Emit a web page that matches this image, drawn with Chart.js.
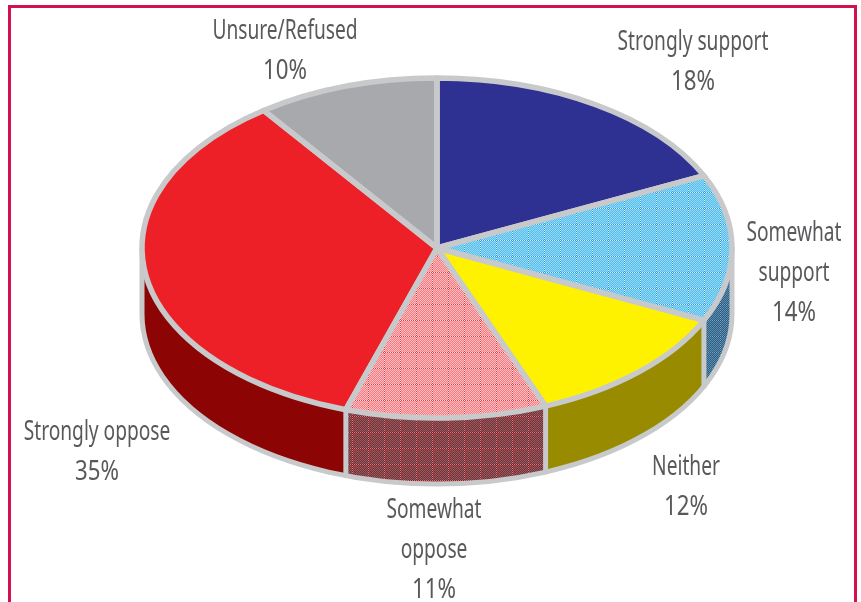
<!DOCTYPE html>
<html>
<head>
<meta charset="utf-8">
<style>
html, body { margin: 0; padding: 0; background: #fff; overflow: hidden; }
#frame { position: absolute; left: 8px; top: 5px; width: 843px; height: 700px; border: 3px solid #d2114f; }
#chart { position: absolute; left: 0; top: 0; }
</style>
<script src="https://cdn.jsdelivr.net/npm/chart.js@4"></script>
</head>
<body>
<div id="frame"></div>
<canvas id="chart" width="861" height="602"></canvas>
<script>
const categories = ['Strongly support', 'Somewhat support', 'Neither', 'Somewhat oppose', 'Strongly oppose', 'Unsure/Refused'];
const values = [18, 14, 12, 11, 35, 10];
const labelLines = [['Strongly support'], ['Somewhat', 'support'], ['Neither'], ['Somewhat', 'oppose'], ['Strongly oppose'], ['Unsure/Refused']];

// where each label block is centred, first baseline
const labelX = [693, 794, 686, 434, 97, 285];
const labelY = [50, 241, 475, 518, 440, 39];

const centerX = 437;
const centerY = 248;
const radius = 295;
const squash = 170 / 295;
const depth = 66;
const edge = '#c8c9cb';

function hatch(a, b, lineA, lineB) {
    const c = document.createElement('canvas');
    c.width = 16;
    c.height = 16;
    const g = c.getContext('2d');
    for (let y = 0; y < 16; y++) {
        for (let x = 0; x < 16; x++) {
            const odd = (x + y) % 2 === 1;
            if (x === 0 || y === 0) g.fillStyle = odd ? lineA : lineB;
            else g.fillStyle = odd ? a : b;
            g.fillRect(x, y, 1, 1);
        }
    }
    return g.createPattern(c, 'repeat');
}

const ctx0 = document.getElementById('chart').getContext('2d');
const topPatterns = [hatch('#5cc0ec', '#8fd6f4', '#2a98dc', '#d8f0fa'), hatch('#f87c84', '#ffbcbe', '#f0343c', '#ffe4e4')];
const topColors = ['#2e3192', topPatterns[0], '#fff200', topPatterns[1], '#ed2027', '#a7a9ac'];
const sideColors = ['#1c1f5c', hatch('#2b6189', '#5f8aa8', '#1f5580', '#7fa4ba'), '#998b00', hatch('#74343a', '#96585c', '#a00d12', '#b88a8c'), '#8c0404', '#6a6b6e'];

const pie3d = {
    id: 'pie3d',
    beforeDatasetsDraw(chart) {
        const ctx = chart.ctx;
        const arcs = chart.getDatasetMeta(0).data;
        const px = (a) => centerX + radius * Math.cos(a);
        const py = (a, d) => centerY + radius * squash * Math.sin(a) + d;

        // side wall, only the front half of the ellipse shows
        arcs.forEach((el, i) => {
            const s = Math.max(el.startAngle, 0);
            const e = Math.min(el.endAngle, Math.PI);
            if (e <= s) return;
            ctx.beginPath();
            ctx.ellipse(centerX, centerY, radius, radius * squash, 0, s, e);
            ctx.lineTo(px(e), py(e, depth));
            ctx.ellipse(centerX, centerY + depth, radius, radius * squash, 0, e, s, true);
            ctx.closePath();
            ctx.fillStyle = sideColors[i];
            ctx.fill();
        });

        ctx.strokeStyle = edge;
        ctx.lineWidth = 5;
        ctx.lineCap = 'round';
        ctx.beginPath();
        ctx.moveTo(px(0), py(0, 0));
        ctx.lineTo(px(0), py(0, depth));
        ctx.ellipse(centerX, centerY + depth, radius, radius * squash, 0, 0, Math.PI);
        ctx.lineTo(px(Math.PI), py(Math.PI, 0));
        ctx.stroke();
        arcs.forEach((el) => {
            if (el.endAngle > 0 && el.endAngle < Math.PI) {
                ctx.beginPath();
                ctx.moveTo(px(el.endAngle), py(el.endAngle, 0));
                ctx.lineTo(px(el.endAngle), py(el.endAngle, depth));
                ctx.stroke();
            }
        });

        // the top face is the library's own pie, squashed
        ctx.save();
        ctx.translate(centerX, centerY);
        ctx.scale(1, squash);
        ctx.translate(-arcs[0].x, -arcs[0].y);
        const m = ctx.getTransform().inverse();
        topPatterns.forEach((p) => p.setTransform(m));
    },
    afterDatasetsDraw(chart) {
        const ctx = chart.ctx;
        const arcs = chart.getDatasetMeta(0).data;
        ctx.restore();

        ctx.strokeStyle = edge;
        ctx.lineWidth = 5.5;
        ctx.lineJoin = 'round';
        arcs.forEach((el) => {
            ctx.beginPath();
            ctx.moveTo(centerX, centerY);
            ctx.ellipse(centerX, centerY, radius, radius * squash, 0, el.startAngle, el.endAngle);
            ctx.closePath();
            ctx.stroke();
        });

        // no condensed face is installed, so the labels are narrowed by hand
        ctx.fillStyle = '#58595b';
        ctx.font = '27px "Noto Sans"';
        ctx.textAlign = 'center';
        ctx.textBaseline = 'alphabetic';
        const narrow = 95 / ctx.measureText('Somewhat').width;
        const narrowPct = 44 / ctx.measureText('14%').width;
        categories.forEach((name, i) => {
            const lines = labelLines[i];
            lines.concat(values[i] + '%').forEach((line, j) => {
                ctx.save();
                ctx.translate(labelX[i], labelY[i] + j * 40);
                ctx.scale(j < lines.length ? narrow : narrowPct, 1);
                ctx.fillText(line, 0, 0);
                ctx.restore();
            });
        });
    }
};

new Chart(ctx0, {
    type: 'pie',
    data: {
        labels: categories,
        datasets: [{
            data: values,
            backgroundColor: topColors,
            borderWidth: 0,
            radius: radius,
            clip: false
        }]
    },
    options: {
        responsive: false,
        animation: false,
        events: [],
        layout: { padding: 0 },
        plugins: { legend: { display: false }, tooltip: { enabled: false } }
    },
    plugins: [pie3d]
});
</script>
</body>
</html>
